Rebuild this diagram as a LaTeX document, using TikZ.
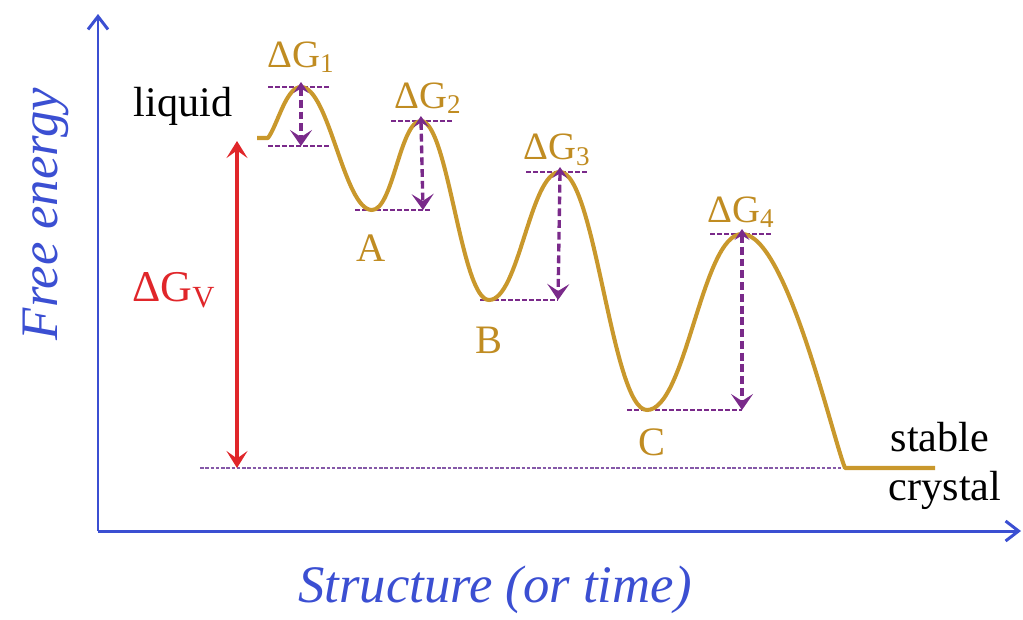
\documentclass[tikz,border=0pt]{standalone}
\usepackage{fontspec}
\setmainfont{Liberation Serif}
\usetikzlibrary{arrows.meta,calc}
\definecolor{eblue}{HTML}{3B4FD2}
\definecolor{egold}{HTML}{C9982C}
\definecolor{elab}{HTML}{C08C22}
\definecolor{epur}{HTML}{7A2A8A}
\definecolor{ered}{HTML}{E0262A}
\definecolor{ebase}{HTML}{8559A8}
\tikzset{
  axis/.style  ={draw=eblue, line width=1.7pt, -{Straight Barb[length=2.6mm,width=4mm]}},
  curve/.style ={draw=egold, line width=2.3pt, line join=round},
  level/.style ={draw=epur, line width=0.9pt, dash pattern=on 2.6pt off 1.4pt},
  base/.style  ={draw=ebase, line width=0.7pt, dash pattern=on 2pt off 1pt},
  drop/.style  ={draw=epur, line width=1.9pt, dash pattern=on 4.5pt off 2.2pt,
                 {Stealth[length=2.2mm,width=3mm,inset=0.9mm,sep=-1mm]}-{Stealth[length=3.2mm,width=4.4mm,inset=1.4mm]}},
  vgap/.style  ={draw=ered, line width=1.8pt,
                 {Stealth[length=3.4mm,width=4.2mm,inset=1.5mm]}-{Stealth[length=3.4mm,width=4.2mm,inset=1.5mm]}},
  dlab/.style  ={text=elab, font=\fontsize{22}{24}\selectfont, inner sep=0pt},
  wlab/.style  ={text=elab, font=\fontsize{23}{25}\selectfont, inner sep=0pt},
  plain/.style ={text=black, font=\fontsize{24}{26}\selectfont, inner sep=0pt},
  ttl/.style   ={text=eblue, font=\fontsize{30}{32}\selectfont\itshape, inner sep=0pt},
}
\begin{document}
\begin{tikzpicture}[x=0.02cm, y=-0.02cm]
  \useasboundingbox (0,0) rectangle (1023,619);
  % axes
  \coordinate (O) at (98,531);
  \coordinate (ytop) at (98,14);
  \coordinate (xend) at (1021,531);
  \draw[axis] (O) -- (ytop);
  \draw[axis] (O) -- (xend);
  \node[ttl, rotate=90] (fe) at (46,214) {Free energy};
  \node[ttl] (st) at (495,590) {Structure (or time)};

  % extrema of the energy landscape
  \coordinate (liq) at (257,138);
  \coordinate (liqend) at (268,138);
  \coordinate (p1) at (301,87);
  \coordinate (mA) at (372,210);
  \coordinate (p2) at (421,121);
  \coordinate (mB) at (489,300);
  \coordinate (p3) at (560,172);
  \coordinate (mC) at (647,410);
  \coordinate (p4) at (742,234);
  \coordinate (cry) at (845,468);
  \coordinate (cryend) at (935,468);
  \coordinate (b1) at (301,146);
  \coordinate (b2) at (423,210);
  \coordinate (b3) at (558,300);
  \coordinate (b4) at (742,410);
  \coordinate (gv) at (200,468);

  \draw[base] (gv) -- (cry);
  \draw[vgap] (237,141) coordinate (vtop) -- (237,468) coordinate (vbot);

  % barrier levels
  \draw[level] ($(p1)+(-33,0)$) -- ($(p1)+(29,0)$);
  \draw[level] ($(b1)+(-33,0)$) -- ($(b1)+(29,0)$);
  \draw[level] ($(p2)+(-30,0)$) -- ($(p2)+(31,0)$);
  \draw[level] ($(b2)+(-68,0)$) -- ($(b2)+(7,0)$);
  \draw[level] ($(p3)+(-34,0)$) -- ($(p3)+(28,0)$);
  \draw[level] ($(b3)+(-78,0)$) -- (b3);
  \draw[level] ($(p4)+(-32,0)$) -- ($(p4)+(31,0)$);
  \draw[level] ($(b4)+(-115,0)$) -- (b4);

  \draw[curve] (liq) -- (liqend)
    .. controls +(10,-14) and +(-15,0) .. (p1)
    .. controls +(28,0) and +(-28,0) .. (mA)
    .. controls +(21,0) and +(-21,0) .. (p2)
    .. controls +(27,0) and +(-28,0) .. (mB)
    .. controls +(30,0) and +(-30,0) .. (p3)
    .. controls +(35,0) and +(-35,0) .. (mC)
    .. controls +(39,0) and +(-40,0) .. (p4)
    .. controls +(44,0) and +(-13,-32) .. (cry)
    -- (cryend);

  \draw[drop] (p1) -- (b1);
  \draw[drop] (p2) -- (b2);
  \draw[drop] (p3) -- (b3);
  \draw[drop] (p4) -- (b4);

  % labels
  \node[dlab] (g1) at (301,57) {ΔG\textsubscript{1}};
  \node[dlab] (g2) at (428,98) {ΔG\textsubscript{2}};
  \node[dlab] (g3) at (557,150) {ΔG\textsubscript{3}};
  \node[dlab] (g4) at (741,212) {ΔG\textsubscript{4}};
  \node[wlab] (la) at (371,248) {A};
  \node[wlab] (lb) at (489,340) {B};
  \node[wlab] (lc) at (652,442) {C};
  \node[dlab, text=ered, font=\fontsize{25}{27}\selectfont] (lv) at (174,290) {ΔG\textsubscript{V}};
  \node[plain] (lq) at (183,106) {liquid};
  \node[plain] (s1) at (940,437) {stable};
  \node[plain] (s2) at (945,490) {crystal};
\end{tikzpicture}
\end{document}
